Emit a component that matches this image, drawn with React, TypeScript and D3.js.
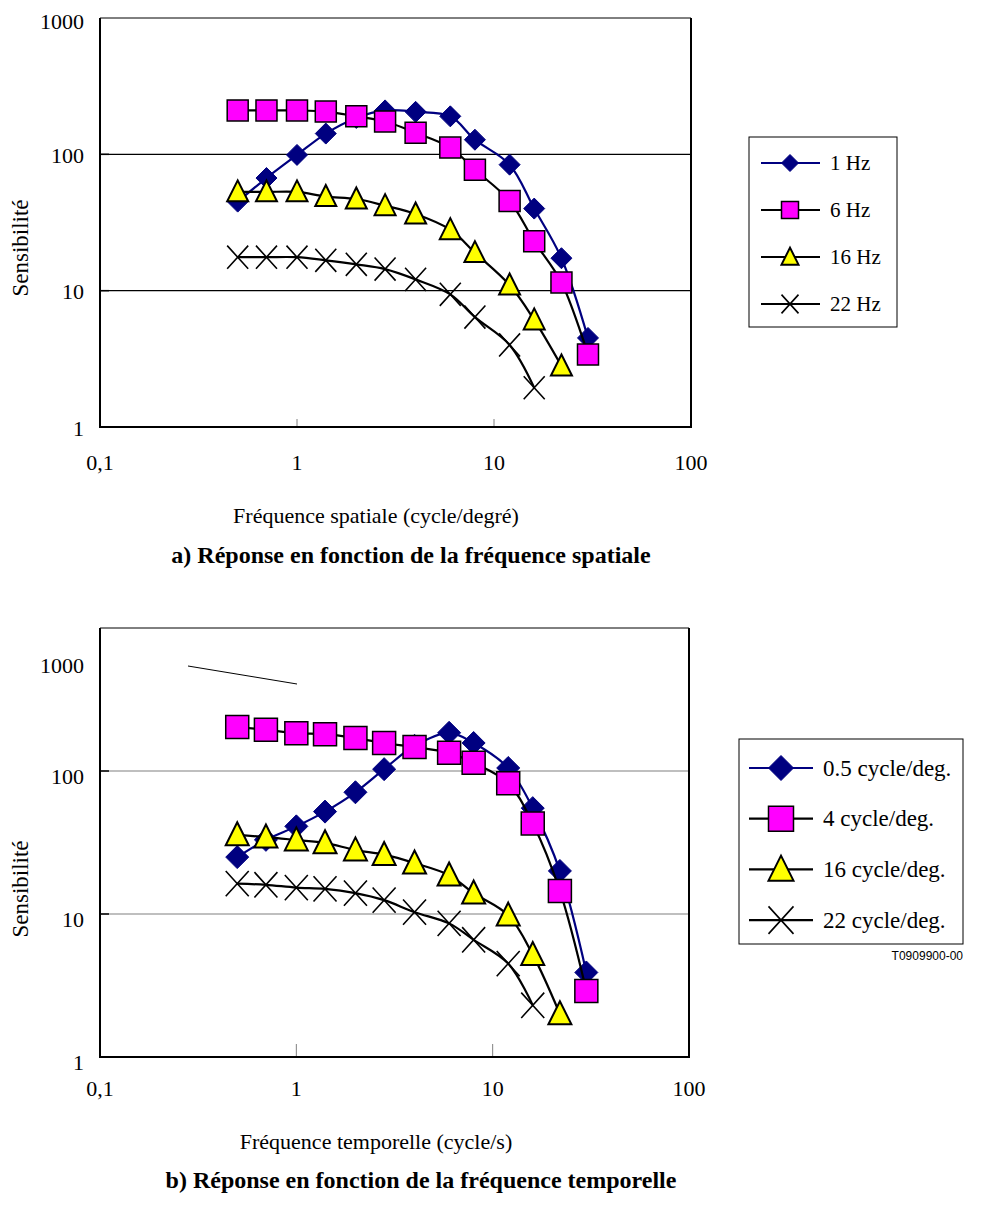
import React, { useEffect, useRef } from 'react';
import * as d3 from 'd3';

// x positions shared by every curve (cycle/degré or cycle/s)
const freqs = [0.5, 0.7, 1, 1.4, 2, 2.8, 4, 6, 8, 12, 16, 22, 30];

// a) spatial frequency response, one curve per temporal frequency
const spatialNames = ['1 Hz', '6 Hz', '16 Hz', '22 Hz'];
const spatial1Hz = [45, 67, 99, 142, 185, 210, 205, 190, 128, 84, 40, 17.3, 4.5];
const spatial6Hz = [210, 210, 210, 206, 190, 174, 144, 112, 77, 45.5, 23, 11.5, 3.4];
const spatial16Hz = [53, 53, 53, 49, 47, 42, 36.5, 28, 19, 11, 6.1, 2.8];
const spatial22Hz = [17.6, 17.6, 17.6, 16.7, 15.6, 14.4, 12.1, 9.4, 6.4, 4.0, 1.94];

// b) temporal frequency response, one curve per spatial frequency
const temporalNames = ['0.5 cycle/deg.', '4 cycle/deg.', '16 cycle/deg.', '22 cycle/deg.'];
const temporal05 = [25, 33, 41, 52, 71, 103, 150, 185, 157, 105, 55, 20, 3.9];
const temporal4 = [203, 194, 184, 181, 170, 157, 147, 134, 114, 82, 43, 14.5, 2.9];
const temporal16 = [35.7, 34.5, 32.9, 31.4, 28, 26, 22.7, 18.7, 14, 9.8, 5.2, 2];
const temporal22 = [16.3, 16, 15.3, 15, 14, 12.5, 10.3, 8.6, 6.6, 4.5, 2.3];

const xTickValues = [0.1, 1, 10, 100];
const xTickLabels = ['0,1', '1', '10', '100'];
const yTickValues = [1, 10, 100, 1000];
const yTickLabels = ['1', '10', '100', '1000'];

type Shape = 'diamond' | 'square' | 'triangle' | 'cross';
const shapes: Shape[] = ['diamond', 'square', 'triangle', 'cross'];

const SERIF = "'Liberation Serif', 'Times New Roman', serif";

const looks: Record<Shape, { line: string; fill: string; stroke: string; sw: number }> = {
  diamond: { line: '#000080', fill: '#000080', stroke: '#000080', sw: 1 },
  square: { line: '#000', fill: '#ff00ff', stroke: '#000', sw: 1.5 },
  triangle: { line: '#000', fill: '#ffff00', stroke: '#000', sw: 2 },
  cross: { line: '#000', fill: 'none', stroke: '#000', sw: 1.6 },
};

function marker(g: any, shape: Shape, cx: number, cy: number, s: number) {
  const st = looks[shape];
  const h = s / 2;
  let d = '';
  if (shape === 'diamond') d = `M${cx},${cy - h}L${cx + h},${cy}L${cx},${cy + h}L${cx - h},${cy}Z`;
  if (shape === 'square') d = `M${cx - h},${cy - h}h${s}v${s}h${-s}Z`;
  if (shape === 'triangle') d = `M${cx},${cy - s * 0.55}L${cx + h},${cy + s * 0.45}L${cx - h},${cy + s * 0.45}Z`;
  if (shape === 'cross') d = `M${cx - h},${cy - h * 1.1}L${cx + h},${cy + h * 1.1}M${cx + h},${cy - h * 1.1}L${cx - h},${cy + h * 1.1}`;
  g.append('path')
    .attr('d', d)
    .attr('fill', st.fill)
    .attr('stroke', st.stroke)
    .attr('stroke-width', st.sw)
    .attr('stroke-linejoin', 'miter');
}

interface PanelOpts {
  left: number; right: number; top: number; bottom: number;
  grid: string; markerSize: number; tickLen: number;
  names: string[]; series: number[][];
  yLabelShift: number; topLabelShift: number;
  xLabelY: number; xTitle: string; xTitleY: number;
  title: string; titleX: number; titleY: number; yTitleY: number;
  legend: { x: number; y: number; w: number; h: number; row0: number; step: number; x1: number; x2: number; mx: number; tx: number; ms: number; fs: number };
}

function drawPanel(svg: any, o: PanelOpts) {
  const x = d3.scaleLog().domain([0.1, 100]).range([o.left, o.right]);
  const y = d3.scaleLog().domain([1, 1000]).range([o.bottom, o.top]);
  const g = svg.append('g');

  // gridlines
  g.selectAll('line.grid')
    .data([10, 100])
    .join('line')
    .attr('x1', o.left).attr('x2', o.right)
    .attr('y1', (d: number) => y(d)).attr('y2', (d: number) => y(d))
    .attr('stroke', o.grid).attr('stroke-width', 1.2);
  g.selectAll('line.ytick')
    .data([10, 100])
    .join('line')
    .attr('x1', o.left).attr('x2', o.left + 9)
    .attr('y1', (d: number) => y(d)).attr('y2', (d: number) => y(d))
    .attr('stroke', '#000').attr('stroke-width', 1.5);
  // minor x ticks inside the frame
  g.selectAll('line.xtick')
    .data([1, 10])
    .join('line')
    .attr('x1', (d: number) => x(d)).attr('x2', (d: number) => x(d))
    .attr('y1', o.bottom).attr('y2', o.bottom - o.tickLen)
    .attr('stroke', '#808080').attr('stroke-width', 1);

  // frame
  g.append('path')
    .attr('d', `M${o.left},${o.top}H${o.right}`)
    .attr('stroke', '#000').attr('stroke-width', 1);
  g.append('path')
    .attr('d', `M${o.left},${o.top}V${o.bottom}H${o.right}V${o.top}`)
    .attr('fill', 'none').attr('stroke', '#000').attr('stroke-width', 2);

  // tick labels
  g.selectAll('text.yl')
    .data(yTickValues)
    .join('text')
    .attr('x', 84)
    .attr('y', (d: number, i: number) => y(d) + (i === 3 ? o.topLabelShift : o.yLabelShift))
    .attr('text-anchor', 'end')
    .attr('dominant-baseline', 'central')
    .attr('font-family', SERIF).attr('font-size', 22)
    .text((_: number, i: number) => yTickLabels[i]);
  g.selectAll('text.xl')
    .data(xTickValues)
    .join('text')
    .attr('x', (d: number) => x(d))
    .attr('y', o.xLabelY)
    .attr('text-anchor', 'middle')
    .attr('dominant-baseline', 'central')
    .attr('font-family', SERIF).attr('font-size', 22)
    .text((_: number, i: number) => xTickLabels[i]);

  // axis titles
  g.append('text')
    .attr('x', 376).attr('y', o.xTitleY)
    .attr('text-anchor', 'middle').attr('dominant-baseline', 'central')
    .attr('font-family', SERIF).attr('font-size', 22)
    .text(o.xTitle);
  g.append('text')
    .attr('transform', `translate(20,${o.yTitleY}) rotate(-90)`)
    .attr('text-anchor', 'middle').attr('dominant-baseline', 'central')
    .attr('font-family', SERIF).attr('font-size', 23)
    .text('Sensibilité');
  g.append('text')
    .attr('x', o.titleX).attr('y', o.titleY)
    .attr('text-anchor', 'middle').attr('dominant-baseline', 'central')
    .attr('font-family', SERIF).attr('font-size', 24).attr('font-weight', 'bold')
    .text(o.title);

  // series
  const line = d3.line<number>()
    .x((_, i) => x(freqs[i]))
    .y(d => y(d))
    .curve(d3.curveCatmullRom.alpha(0.5));

  o.series.forEach((vals, si) => {
    const shape = shapes[si];
    const sg = g.append('g');
    sg.append('path')
      .datum(vals)
      .attr('fill', 'none')
      .attr('stroke', looks[shape].line)
      .attr('stroke-width', 2.2)
      .attr('d', line);
    vals.forEach((v, i) => marker(sg, shape, x(freqs[i]), y(v), o.markerSize));
  });

  // legend
  const L = o.legend;
  const lg = g.append('g');
  lg.append('rect')
    .attr('x', L.x).attr('y', L.y).attr('width', L.w).attr('height', L.h)
    .attr('fill', '#fff').attr('stroke', '#000').attr('stroke-width', 1);
  o.names.forEach((name, i) => {
    const shape = shapes[i];
    const cy = L.row0 + i * L.step;
    lg.append('line')
      .attr('x1', L.x1).attr('x2', L.x2).attr('y1', cy).attr('y2', cy)
      .attr('stroke', looks[shape].line).attr('stroke-width', 2.2);
    marker(lg, shape, L.mx, cy, L.ms);
    lg.append('text')
      .attr('x', L.tx).attr('y', cy)
      .attr('dominant-baseline', 'central')
      .attr('font-family', SERIF).attr('font-size', L.fs)
      .text(name);
  });
  return g;
}

export default function App() {
  const svgRef = useRef<SVGSVGElement>(null);

  useEffect(() => {
    if (!svgRef.current) return;
    const svg = d3.select(svgRef.current);
    svg.selectAll('*').remove();

    drawPanel(svg, {
      left: 100, right: 691, top: 18, bottom: 427,
      grid: '#000', markerSize: 21, tickLen: 8,
      names: spatialNames,
      series: [spatial1Hz, spatial6Hz, spatial16Hz, spatial22Hz],
      yLabelShift: 1, topLabelShift: 3,
      xLabelY: 462, xTitle: 'Fréquence spatiale (cycle/degré)', xTitleY: 515,
      title: 'a) Réponse en fonction de la fréquence spatiale', titleX: 411, titleY: 555,
      yTitleY: 248,
      legend: { x: 749, y: 137, w: 148, h: 190, row0: 163, step: 47, x1: 761, x2: 820, mx: 790, tx: 830, ms: 17, fs: 21 },
    });

    const b = drawPanel(svg, {
      left: 100, right: 689, top: 628, bottom: 1057,
      grid: '#808080', markerSize: 23, tickLen: 13,
      names: temporalNames,
      series: [temporal05, temporal4, temporal16, temporal22],
      yLabelShift: 5, topLabelShift: 37,
      xLabelY: 1088, xTitle: 'Fréquence temporelle (cycle/s)', xTitleY: 1141,
      title: 'b) Réponse en fonction de la fréquence temporelle', titleX: 421, titleY: 1180,
      yTitleY: 889,
      legend: { x: 739, y: 739, w: 224, h: 205, row0: 768, step: 50.7, x1: 749, x2: 813, mx: 781, tx: 823, ms: 25, fs: 23 },
    });

    // stray leader line left in the original figure
    b.append('line')
      .attr('x1', 188).attr('y1', 666).attr('x2', 297).attr('y2', 684)
      .attr('stroke', '#000').attr('stroke-width', 1);

    svg.append('text')
      .attr('x', 963).attr('y', 956)
      .attr('text-anchor', 'end').attr('dominant-baseline', 'central')
      .attr('font-family', "'Liberation Sans', Arial, sans-serif").attr('font-size', 12)
      .text('T0909900-00');
  }, []);

  return (
    <svg
      ref={svgRef}
      width={991}
      height={1205}
      style={{ position: 'absolute', left: 0, top: 0, background: '#fff' }}
    />
  );
}
